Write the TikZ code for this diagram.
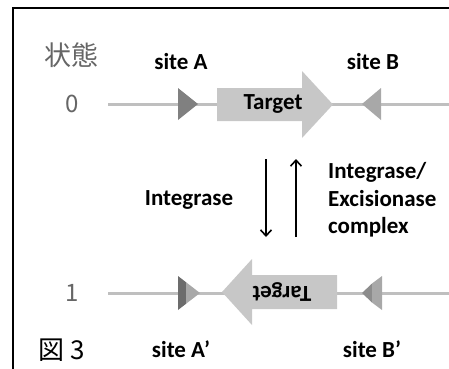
\documentclass[tikz,border=0pt]{standalone}
\usepackage{fontspec}
\setmainfont{Carlito}
\newfontfamily\jpfont{Noto Sans CJK JP}
\usetikzlibrary{arrows.meta}
\definecolor{dnaline}{gray}{0.75}
\definecolor{targetfill}{gray}{0.78}
\definecolor{siteAcol}{gray}{0.50}
\definecolor{siteBcol}{gray}{0.66}
\definecolor{statecol}{gray}{0.40}
\tikzset{
  lbl/.style={font=\fontsize{23}{27}\selectfont\bfseries, inner sep=0pt},
  statelbl/.style={font=\jpfont\fontsize{24}{26}\selectfont, text=statecol, inner sep=0pt},
  dna/.style={draw=dnaline, line width=3pt},
  react/.style={line width=1.6pt, -{Straight Barb[length=6pt,width=11pt,line width=1.6pt]}},
}
\begin{document}
\begin{tikzpicture}[x=1pt,y=-1pt]
\useasboundingbox (0,0) rectangle (449,368);
\clip (0,0) rectangle (449,368);
% outer frame (runs past the right and bottom edges)
\draw[line width=1.5pt] (13,8) rectangle (470,390);

% state labels
\node[statelbl, font=\jpfont\fontsize{27}{29}\selectfont] (hdr) at (71,55) {状態};
\node[statelbl] (s0) at (72,104) {0};
\node[statelbl] (s1) at (72,293) {1};
\node[inner sep=0pt, font=\jpfont\fontsize{26}{28}\selectfont] (fig) at (62,350) {図 3};

% ---- state 0 ----
\coordinate (l0a) at (108,104);
\coordinate (l0b) at (449,104);
\draw[dna] (l0a) -- (l0b);
% site A (pointing right)
\fill[siteAcol] (178,88) -- (198,104) -- (178,120) -- cycle;
% site B (pointing left)
\fill[siteBcol] (381,88) -- (362,104) -- (381,120) -- cycle;
% target gene
\fill[targetfill] (217,88) -- (302,88) -- (302,71) -- (333,104.5) -- (302,138) -- (302,121) -- (217,121) -- cycle;
\node[lbl] (tgt0) at (273,104) {Target};
\node[lbl] (siteA) at (181,62) {site A};
\node[lbl] (siteB) at (373,62) {site B};

% ---- state 1 ----
\coordinate (l1a) at (108,293);
\coordinate (l1b) at (449,293);
\draw[dna] (l1a) -- (l1b);
% site A' (hybrid: A half, then B half)
\fill[siteAcol!85!black] (178,276) -- (186,282.2) -- (186,303.8) -- (178,310) -- cycle;
\fill[siteBcol] (186,282.2) -- (200,293) -- (186,303.8) -- cycle;
% site B' (hybrid: A half at the tip, B half at the base)
\fill[siteAcol!90] (372,283.5) -- (362,293) -- (372,302.5) -- cycle;
\fill[siteBcol] (372,283.5) -- (382,276) -- (382,310) -- (372,302.5) -- cycle;
% inverted target gene
\fill[targetfill] (337,275) -- (252,275) -- (252,259) -- (222,292) -- (252,325) -- (252,309) -- (337,309) -- cycle;
\node[lbl, rotate=180] (tgt1) at (282,292) {Target};
\node[lbl] (siteAp) at (181,349) {site A’};
\node[lbl] (siteBp) at (372,349) {site B’};

% ---- reactions ----
\coordinate (dnTop) at (266,159);
\coordinate (dnBot) at (266,237);
\coordinate (upBot) at (296,237);
\coordinate (upTop) at (296,159);
\draw[react] (dnTop) -- (dnBot);
\draw[react] (upBot) -- (upTop);
\node[lbl] (intg) at (189,200) {Integrase};
\node[lbl, anchor=west, align=left, font=\fontsize{23}{27.5}\selectfont\bfseries] (xis) at (328,200) {Integrase/\\Excisionase\\complex};
\end{tikzpicture}
\end{document}
